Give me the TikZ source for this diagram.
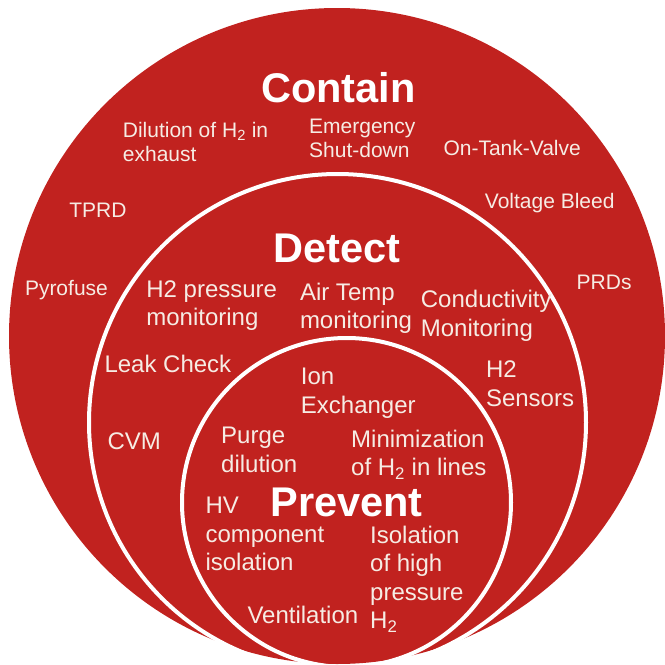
\documentclass[tikz,border=0pt]{standalone}
\usepackage{fontspec}
\setmainfont{Liberation Sans}
\definecolor{ringred}{RGB}{193,34,31}
\definecolor{txt}{RGB}{246,236,228}
\tikzset{
  ring/.style={draw=white, line width=4pt},
  small/.style={anchor=base west, align=left, text=txt, inner sep=0pt, font=\fontsize{21}{24.5}\selectfont},
  mid/.style={anchor=base west, align=left, text=txt, inner sep=0pt, font=\fontsize{24}{28.5}\selectfont},
  title/.style={anchor=base, text=white, inner sep=0pt, font=\fontsize{41.5}{48}\selectfont\bfseries}
}
\begin{document}
\begin{tikzpicture}[x=1pt,y=-1pt]
\useasboundingbox (0,0) rectangle (665,665);
\fill[ringred] (337,336) circle[radius=328];
\draw[ring] (337.5,422.5) circle[radius=248.5];
\draw[ring] (346.5,502.5) circle[radius=164.5];
% titles (anchors at baselines)
\node[title] (contain) at (338.5,102.7) {Contain};
\node[title] (detect) at (337,262) {Detect};
\node[title] (prevent) at (346.7,516.7) {Prevent};
% contain items (anchor = baseline of last line)
\node[small] (dil) at (122.7,161.8) {Dilution of H\textsubscript{2} in\\exhaust};
\node[small] (emer) at (309,157.8) {Emergency\\Shut-down};
\node[small] (otv) at (443.3,155) {On-Tank-Valve};
\node[small] (vb) at (484.7,208.6) {Voltage Bleed};
\node[small] (tprd) at (69.1,217.6) {TPRD};
\node[small] (pyro) at (24.8,295.3) {Pyrofuse};
\node[small] (prds) at (576.5,289.5) {PRDs};
% detect items
\node[mid] (h2p) at (146.2,325.8) {H2 pressure\\monitoring};
\node[mid] (air) at (299.8,328.8) {Air Temp\\monitoring};
\node[mid] (cond) at (420.7,336.3) {Conductivity\\Monitoring};
\node[mid] (leak) at (104.3,372) {Leak Check};
\node[mid] (h2s) at (485.8,406.3) {H2\\Sensors};
\node[mid] (cvm) at (107.3,449.5) {CVM};
% prevent items
\node[mid] (ion) at (300.7,413.3) {Ion\\Exchanger};
\node[mid] (purge) at (221,472.2) {Purge\\dilution};
\node[mid] (mini) at (351,475.5) {Minimization\\of H\textsubscript{2} in lines};
\node[mid] (hv) at (205.3,570.7) {HV\\component\\isolation};
\node[mid] (iso) at (370,628.5) {Isolation\\of high\\pressure\\H\textsubscript{2}};
\node[mid] (vent) at (247.3,623.3) {Ventilation};
\end{tikzpicture}
\end{document}
